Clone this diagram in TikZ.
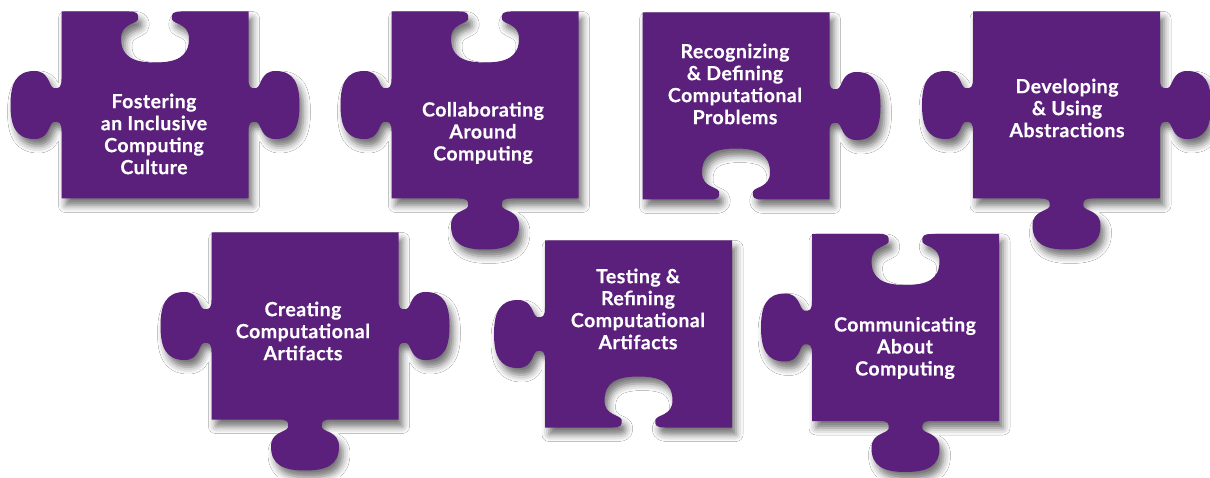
\documentclass[tikz,border=0pt]{standalone}
\usepackage{fontspec}
\setmainfont{Lato}[BoldFeatures={FakeBold=0.5,LetterSpace=2.5}]
\usetikzlibrary{shadows.blur}
\definecolor{pzpurple}{RGB}{91,31,124}
\def\hh{93.5}
% edges written for the bottom side (outward = -y), traversed left to right
\newcommand\flatE{-- (\hh,-\hh)}
\newcommand\tabE{-- (-26,-\hh) .. controls (-18,-\hh) and (-16,{-\hh-2}) .. (-17,{-\hh-8})
 .. controls (-19,{-\hh-13}) and (-34,{-\hh-12}) .. (-34,{-\hh-27})
 .. controls (-34,{-\hh-45}) and (-22,{-\hh-51}) .. (0,{-\hh-51})
 .. controls (22,{-\hh-51}) and (34,{-\hh-45}) .. (34,{-\hh-27})
 .. controls (34,{-\hh-12}) and (19,{-\hh-13}) .. (17,{-\hh-8})
 .. controls (16,{-\hh-2}) and (18,-\hh) .. (26,-\hh) -- (\hh,-\hh)}
\newcommand\notchE{-- (-26,-\hh) .. controls (-18,-\hh) and (-16,{-\hh+2}) .. (-17,{-\hh+8})
 .. controls (-19,{-\hh+13}) and (-34,{-\hh+12}) .. (-34,{-\hh+27})
 .. controls (-34,{-\hh+45}) and (-22,{-\hh+51}) .. (0,{-\hh+51})
 .. controls (22,{-\hh+51}) and (34,{-\hh+45}) .. (34,{-\hh+27})
 .. controls (34,{-\hh+12}) and (19,{-\hh+13}) .. (17,{-\hh+8})
 .. controls (16,{-\hh+2}) and (18,-\hh) .. (26,-\hh) -- (\hh,-\hh)}
% #1 cx, #2 cy (pixels from top), #3 bottom, #4 right, #5 top, #6 left
\newcommand\piece[6]{%
  \fill[pz, shift={(#1,477-#2)}] (-\hh,-\hh) #3
    {[rotate=90] #4} {[rotate=180] #5} {[rotate=270] #6} -- cycle;}
\tikzset{
  pz/.style={pzpurple, blur shadow={shadow xshift=4pt, shadow yshift=-7pt,
     shadow blur radius=7pt, shadow opacity=55}},
  lbl/.style={text=white, align=center, font=\fontsize{19.5}{22}\selectfont\bfseries,
     inner sep=0pt}
}
\begin{document}
\begin{tikzpicture}[x=1pt,y=1pt]
\useasboundingbox[fill=white] (0,0) rectangle (1210,477);
\piece{155}{105}{\flatE}{\tabE}{\notchE}{\tabE}
\piece{485}{105}{\tabE}{\flatE}{\notchE}{\tabE}
\piece{736}{106}{\notchE}{\tabE}{\flatE}{\flatE}
\piece{1066.5}{105}{\tabE}{\tabE}{\flatE}{\tabE}
\piece{305}{326}{\tabE}{\tabE}{\flatE}{\tabE}
\piece{638.5}{334}{\notchE}{\flatE}{\flatE}{\tabE}
\piece{905.5}{327.5}{\tabE}{\flatE}{\notchE}{\tabE}
\node[lbl] (t1) at (154,477-134) {Fostering\\an Inclusive\\Computing\\Culture};
\node[lbl] (t2) at (483,477-133) {Collaborating\\Around\\Computing};
\node[lbl] (t3) at (735,477-84) {Recognizing\\\& Defining\\Computational\\Problems};
\node[lbl] (t4) at (1067,477-108) {Developing\\\& Using\\Abstractions};
\node[lbl] (t5) at (303,477-331) {Creating\\Computational\\Artifacts};
\node[lbl] (t6) at (638,477-309) {Testing \&\\Refining\\Computational\\Artifacts};
\node[lbl] (t7) at (905,477-348) {Communicating\\About\\Computing};
\end{tikzpicture}
\end{document}
